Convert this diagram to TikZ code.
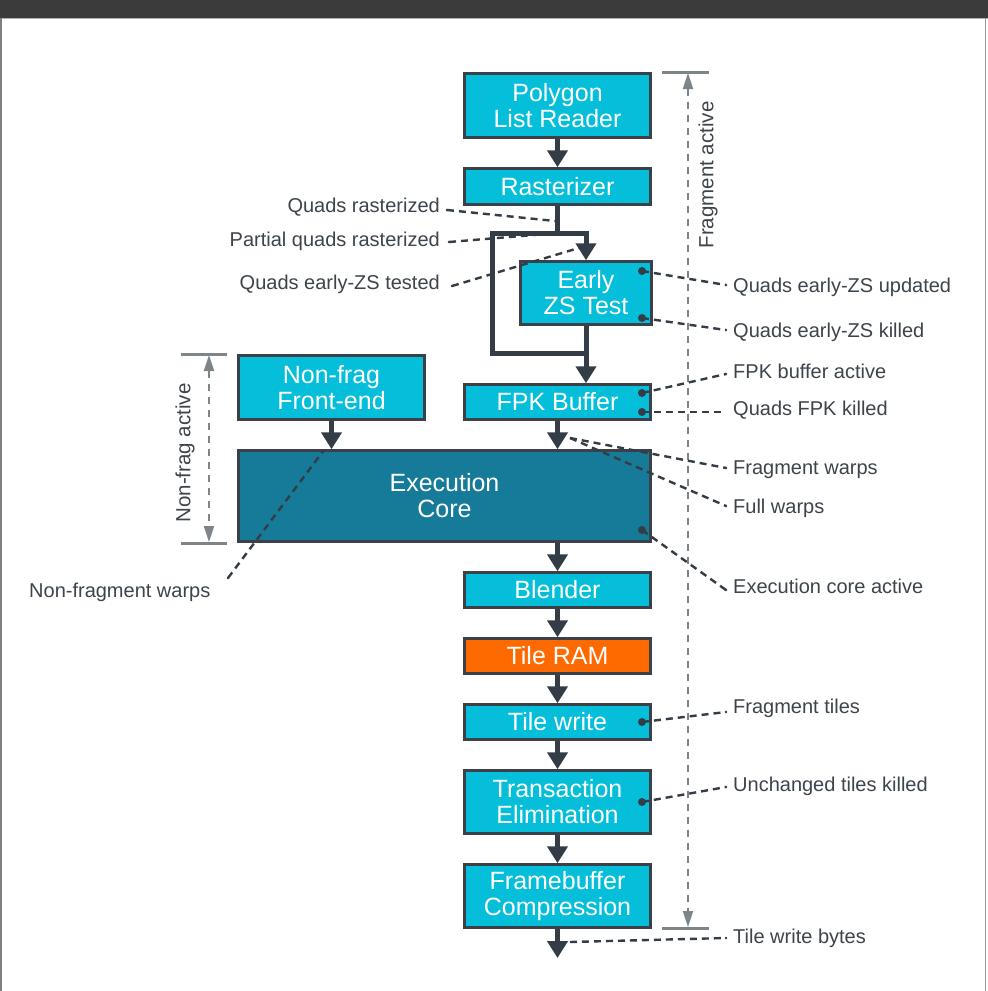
\documentclass[tikz,border=0pt]{standalone}
\usepackage{fontspec}
\setmainfont{Liberation Sans}
\usetikzlibrary{arrows.meta}
\definecolor{boxcyan}{HTML}{05BEDA}
\definecolor{corecol}{HTML}{167B98}
\definecolor{ramcol}{HTML}{FF6A00}
\definecolor{edgecol}{HTML}{3A4148}
\definecolor{flowcol}{HTML}{343D46}
\definecolor{lblcol}{HTML}{3D444B}
\definecolor{dimcol}{HTML}{7E8589}
\definecolor{chromecol}{HTML}{3B3B3B}
\begin{document}
\begin{tikzpicture}[x=1pt,y=-1pt,
  box/.style={draw=edgecol, line width=2.5pt, fill=boxcyan, text=white, inner sep=0pt,
    align=center, font=\fontsize{25}{26}\selectfont},
  flow/.style={draw=flowcol, line width=5pt},
  flowarr/.style={flow, -{Triangle[width=20pt,length=17pt]}},
  tap/.style={draw=flowcol, line width=2.4pt, dash pattern=on 7pt off 5pt},
  lbl/.style={text=lblcol, font=\fontsize{20}{22}\selectfont, inner sep=0pt, text height=14pt, text depth=4pt},
  rlbl/.style={text=lblcol, font=\fontsize{20.5}{22}\selectfont, inner sep=0pt, rotate=90},
  dimln/.style={draw=dimcol, line width=2pt, dash pattern=on 7pt off 6pt,
    {Triangle[width=10pt,length=16pt]}-{Triangle[width=10pt,length=16pt]}},
  dimbar/.style={draw=dimcol, line width=3pt},
  bigdot/.style={fill=flowcol},
]
\useasboundingbox (0,0) rectangle (988,991);
\fill[white] (0,0) rectangle (988,991);
% screenshot chrome
\fill[chromecol] (0,0) rectangle (988,18);
\draw[gray!60, line width=1pt] (0,18.5) -- (988,18.5);
\draw[gray, line width=1.5pt] (0.75,18) -- (0.75,991);
\draw[gray!80, line width=1.5pt] (985.5,18) -- (985.5,991);

% boxes
\node[box, minimum width=186pt, minimum height=64pt] (plr) at (557.5,105.5) {Polygon\\List Reader};
\node[box, minimum width=186pt, minimum height=36pt] (ras) at (557.5,186.5) {Rasterizer};
\node[box, minimum width=131pt, minimum height=63pt] (ezs) at (586,293) {Early\\ZS Test};
\node[box, minimum width=186pt, minimum height=35pt] (fpk) at (557.5,402) {FPK Buffer};
\node[box, minimum width=186pt, minimum height=64pt] (nff) at (331.5,387.5) {Non-frag\\Front-end};
\node[box, fill=corecol, minimum width=412pt, minimum height=91pt] (exe) at (444.5,496) {Execution\\Core};
\node[box, minimum width=186pt, minimum height=35pt] (bld) at (557.5,590) {Blender};
\node[box, fill=ramcol, minimum width=186pt, minimum height=35pt] (tram) at (557.5,656) {Tile RAM};
\node[box, minimum width=186pt, minimum height=35pt] (tw) at (557.5,722) {Tile write};
\node[box, minimum width=186pt, minimum height=63pt] (te) at (557.5,802) {Transaction\\Elimination};
\node[box, minimum width=186pt, minimum height=63pt] (fbc) at (557.5,896) {Framebuffer\\Compression};

% flow junctions
\coordinate (j1) at (557.5,233);
\coordinate (jl) at (492,233);
\coordinate (jr) at (586,233);
\coordinate (jlb) at (492,353);
\coordinate (jrb) at (586,353);
\coordinate (out) at (557.5,958);

% flow connectors
\draw[flowarr] (plr.south) -- (ras.north);
\draw[flow] (ras.south) -- (j1);
\draw[flowarr, line cap=rect, line join=miter] (jl) -- (jr) -- (ezs.north);
\draw[flowarr, line cap=rect, line join=miter] (jl) -- (jlb) -- (jrb) -- (fpk.north -| jrb);
\draw[flow] (ezs.south) -- (jrb);
\draw[flowarr] (nff.south) -- (nff.south |- exe.north);
\draw[flowarr] (fpk.south) -- (fpk.south |- exe.north);
\draw[flowarr] (bld.north |- exe.south) -- (bld.north);
\draw[flowarr] (bld.south) -- (tram.north);
\draw[flowarr] (tram.south) -- (tw.north);
\draw[flowarr] (tw.south) -- (te.north);
\draw[flowarr] (te.south) -- (fbc.north);
\draw[flowarr] (fbc.south) -- (out);

% dimension: Fragment active
\coordinate (fa1) at (688,73);
\coordinate (fa2) at (688,927);
\draw[dimbar] (662,72) -- (709,72);
\draw[dimbar] (662,928) -- (709,928);
\draw[dimln] (fa1) -- (fa2);
\node[rlbl] (fatxt) at (708,175) {Fragment active};

% dimension: Non-frag active
\coordinate (na1) at (209,355);
\coordinate (na2) at (209,542);
\draw[dimbar] (181,354) -- (227,354);
\draw[dimbar] (181,543) -- (227,543);
\draw[dimln] (na1) -- (na2);
\node[rlbl] (natxt) at (185,453) {Non-frag active};

% labels
\node[lbl, anchor=base east] (lqr) at (440,212) {Quads rasterized};
\node[lbl, anchor=base east] (lpq) at (440,246) {Partial quads rasterized};
\node[lbl, anchor=base east] (lqt) at (440,289) {Quads early-ZS tested};
\node[lbl, anchor=base west] (lqu) at (733,292) {Quads early-ZS updated};
\node[lbl, anchor=base west] (lqk) at (733,337) {Quads early-ZS killed};
\node[lbl, anchor=base west] (lfa) at (733,378) {FPK buffer active};
\node[lbl, anchor=base west] (lfk) at (733,415) {Quads FPK killed};
\node[lbl, anchor=base west] (lfw) at (733,474) {Fragment warps};
\node[lbl, anchor=base west] (lfu) at (733,513) {Full warps};
\node[lbl, anchor=base west] (lea) at (733,593) {Execution core active};
\node[lbl, anchor=base west] (lft) at (733,713) {Fragment tiles};
\node[lbl, anchor=base west] (lut) at (733,791) {Unchanged tiles killed};
\node[lbl, anchor=base west] (ltb) at (733,943) {Tile write bytes};
\node[lbl, anchor=base west] (lnf) at (29,597) {Non-fragment warps};

% tap points
\coordinate (tqr) at (555,221);
\coordinate (tqt) at (582,247);
\coordinate (dz1) at (642,271);
\coordinate (dz2) at (642,318);
\coordinate (df1) at (642,393);
\coordinate (df2) at (642,412);
\coordinate (twp) at (570,438);
\coordinate (de) at (642,530);
\coordinate (dt1) at (642,722);
\coordinate (dt2) at (642,802);
\coordinate (tbo) at (570,942);
\coordinate (nfo) at (324,450);

% label-side ends
\coordinate (eqr) at (447,210);
\coordinate (epq) at (449,242);
\coordinate (eqt) at (452,286);
\coordinate (equ) at (726,285);
\coordinate (eqk) at (726,330);
\coordinate (efa) at (726,374);
\coordinate (efk) at (722,412);
\coordinate (efw) at (726,468);
\coordinate (efu) at (726,506);
\coordinate (eea) at (726,590);
\coordinate (eft) at (726,712);
\coordinate (eut) at (726,787);
\coordinate (etb) at (726,938);
\coordinate (enf) at (228,578);

% tap lines
\draw[tap] (eqr) -- (tqr);
\draw[tap] (epq) -- (j1);
\draw[tap] (eqt) -- (tqt);
\draw[tap] (dz1) -- (equ);
\draw[tap] (dz2) -- (eqk);
\draw[tap] (df1) -- (efa);
\draw[tap] (df2) -- (efk);
\draw[tap] (twp) -- (efw);
\draw[tap] (twp) -- (efu);
\draw[tap] (de) -- (eea);
\draw[tap] (dt1) -- (eft);
\draw[tap] (dt2) -- (eut);
\draw[tap] (tbo) -- (etb);
\draw[tap] (enf) -- (nfo);

% dots
\foreach \p in {dz1,dz2,df1,df2,de,dt1,dt2} \fill[bigdot] (\p) circle (4pt);
\foreach \p in {eqr,epq,eqt,equ,eqk,efa,efw,efu,eea,eft,eut,etb,enf} \fill[bigdot] (\p) circle (1.4pt);
\end{tikzpicture}
\end{document}
